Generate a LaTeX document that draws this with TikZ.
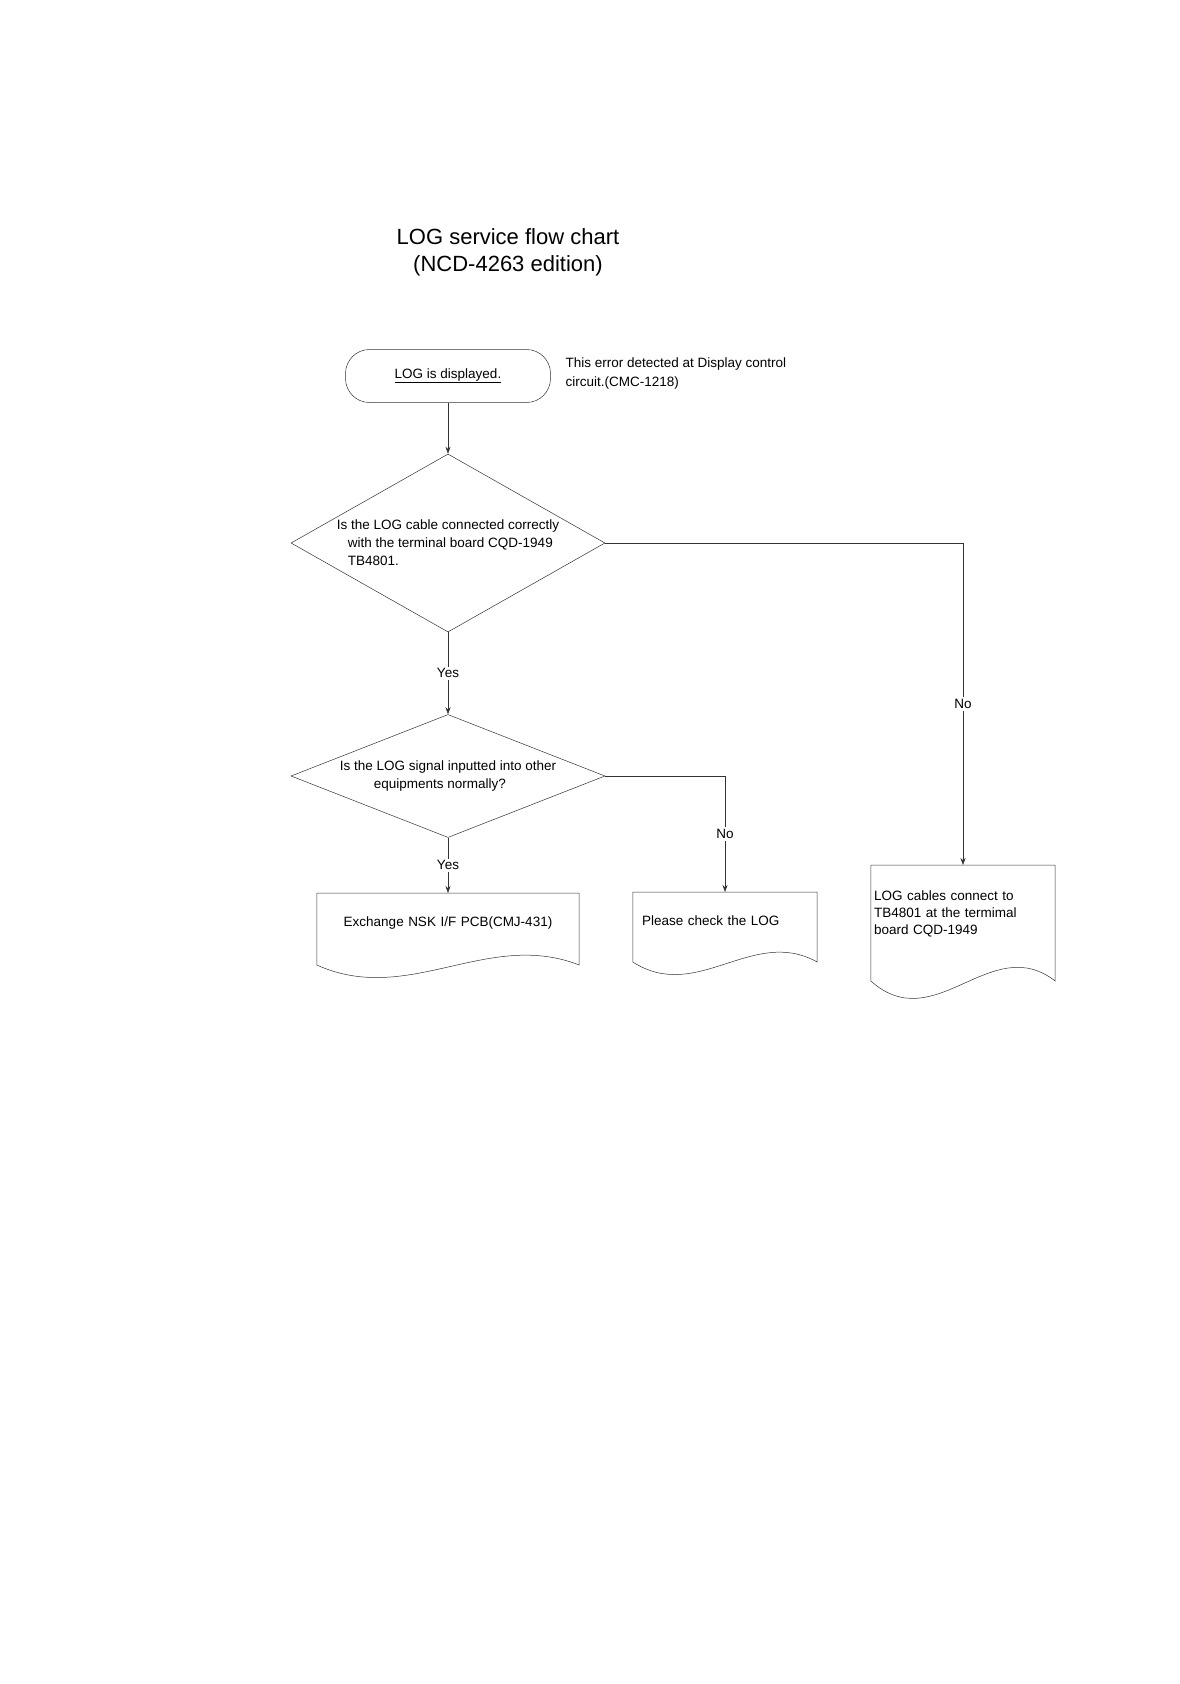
\documentclass[tikz,border=0pt]{standalone}
\usepackage{fontspec}
\setmainfont{Liberation Sans}
\usetikzlibrary{shapes.geometric,arrows.meta,calc}

\tikzset{
  outline/.style={draw=black!80, line width=0.5pt},
  arrow/.style={outline, -{Stealth[length=7pt,width=5pt]}},
  small/.style={font=\fontsize{13.5}{18}\selectfont},
  terminal/.style={outline, small, rectangle, rounded corners=24pt,
    minimum width=205pt, minimum height=53pt, inner sep=0pt},
  decision/.style={outline, diamond, inner sep=0pt, minimum width=314pt},
  doctext/.style={small, anchor=north, inner ysep=24pt},
  tag/.style={small, fill=white, inner sep=2pt},
}

% document symbol: straight top and sides, wavy bottom
\newcommand{\docshape}[3][36]{%
  \coordinate (#2-se) at ($(#2.north east)+(0,#3)$);
  \coordinate (#2-sw) at ($(#2.north west)+(0,#3)$);
  \draw[outline] (#2-sw) -- (#2.north west) -- (#2.north east) -- (#2-se)
    .. controls ($(#2-se)!0.35!(#2-sw)+(0,-#1)$) and ($(#2-se)!0.65!(#2-sw)+(0,1.15*#1)$) .. (#2-sw);
}

\begin{document}
\begin{tikzpicture}[x=1pt,y=-1pt]
\useasboundingbox (0,0) rectangle (1179,1684);

\node[font=\fontsize{22}{27}\selectfont, align=center] (title) at (508,252)
  {LOG service flow chart\\(NCD-4263 edition)};

% start and note
\node[terminal] (start) at (448,376) {\underline{LOG is displayed.}};
\node[small, anchor=west, align=left, font=\fontsize{13.5}{19}\selectfont] (note) at (562,374)
  {This error detected at Display control\\circuit.(CMC-1218)};

% decisions
\node[decision, minimum height=178pt] (q1) at (448,543) {};
\node[small, align=left] (q1text) at (q1)
  {Is the LOG cable connected correctly\\\hspace*{11pt}with the terminal board CQD-1949\\\hspace*{11pt}TB4801.};
\node[decision, minimum height=123pt] (q2) at (448,776) {};
\node[small, align=left] (q2text) at (q2)
  {Is the LOG signal inputted into other\\\hspace*{34pt}equipments normally?};

% documents
\node[doctext, inner xsep=4pt, text width=254pt, align=center] (doc1) at (448,893)
  {Exchange NSK I/F PCB(CMJ-431)};
\docshape{doc1}{72}
\node[doctext, inner xsep=9pt, text width=166pt, align=left] (doc2) at (725,892)
  {Please check the LOG};
\docshape{doc2}{70}
\node[doctext, inner xsep=3pt, text width=178pt, align=left, inner ysep=26pt,
  font=\fontsize{13.5}{17}\selectfont] (doc3) at (963,865)
  {LOG cables connect to\\TB4801 at the termimal\\board CQD-1949};
\docshape[50]{doc3}{116}

% connectors
\draw[arrow] (start) -- (q1);
\draw[arrow] (q1) -- node[tag] {Yes} (q2);
\draw[arrow] (q2) -- node[tag] {Yes} (doc1.north);
\draw[arrow] (q1.east) -| node[tag, pos=0.75] {No} (doc3.north);
\draw[arrow] (q2.east) -| node[tag, pos=0.75] {No} (doc2.north);
\end{tikzpicture}
\end{document}
